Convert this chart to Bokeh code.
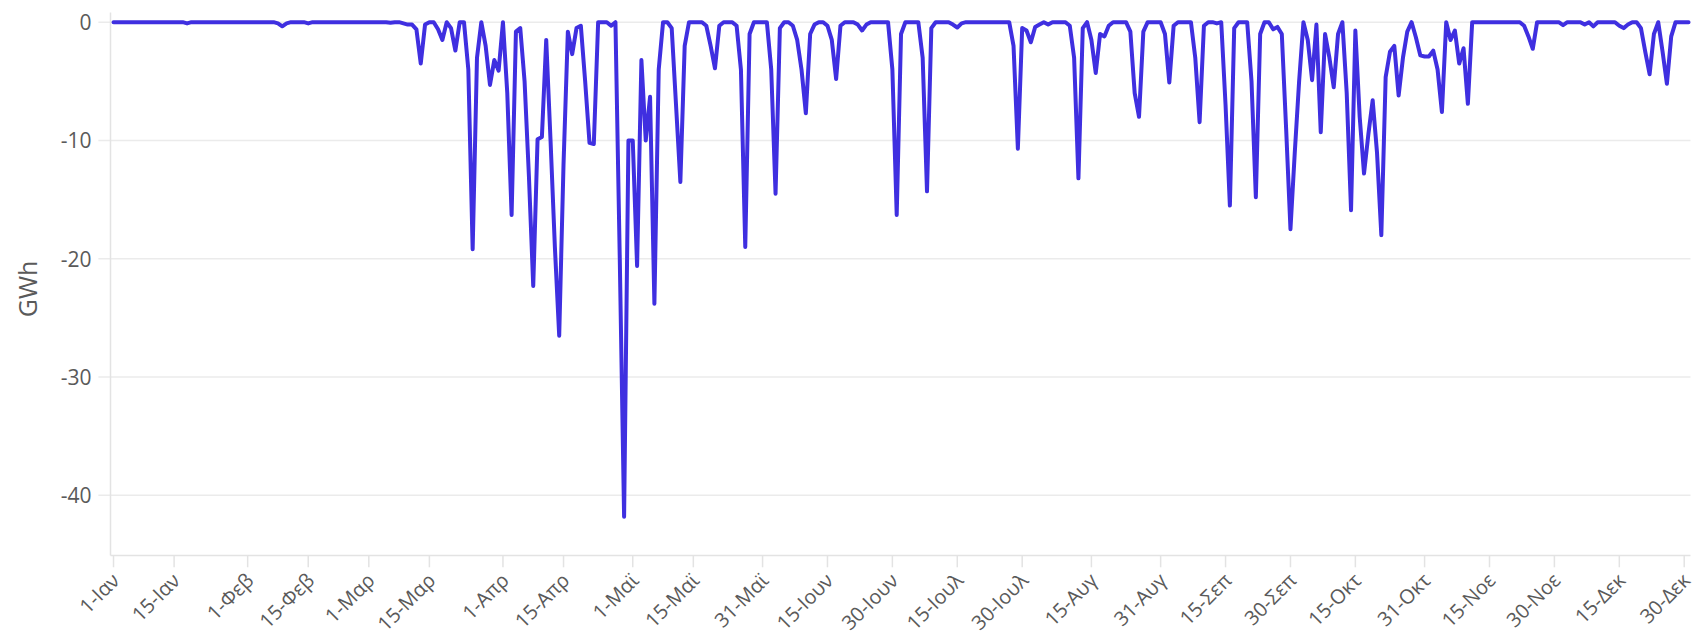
import math
from bokeh.plotting import figure
from bokeh.models import Range1d, ColumnDataSource
from bokeh.core.properties import value
from bokeh.embed import file_html
from bokeh.resources import INLINE

# Daily values (GWh), one list per month, non-leap year
jan = [0, 0, 0, 0, 0, 0, 0, 0, 0, 0, 0, 0, 0, 0, 0, 0, 0, -0.1, 0, 0,
       0, 0, 0, 0, 0, 0, 0, 0, 0, 0, 0]
feb = [0, 0, 0, 0, 0, 0, 0, -0.1, -0.35, -0.1, 0, 0, 0, 0, -0.1, 0, 0, 0, 0, 0,
       0, 0, 0, 0, 0, 0, 0, 0]
mar = [0, 0, 0, 0, 0, -0.05, 0, 0, -0.1, -0.2, -0.2, -0.6, -3.5, -0.2, 0, 0, -0.6, -1.5, 0, -0.5,
       -2.4, 0, 0, -4, -19.2, -3, 0, -2, -5.3, -3.2, -4.1]
apr = [0, -6, -16.3, -0.8, -0.5, -5, -13, -22.3, -9.9, -9.7, -1.5, -10, -19, -26.5, -12, -0.8, -2.7, -0.5, -0.3, -5,
       -10.2, -10.3, 0, 0, 0, -0.3, 0, -20, -41.8, -10]
may = [-10, -20.6, -3.2, -10, -6.3, -23.8, -4, 0, 0, -0.5, -7, -13.5, -2, 0, 0, 0, 0, -0.3, -2, -3.9,
       -0.3, 0, 0, 0, -0.3, -4, -19, -1, 0, 0, 0]
jun = [0, -4, -14.5, -0.5, 0, 0, -0.3, -1.5, -4, -7.7, -1, -0.2, 0, 0, -0.3, -1.5, -4.8, -0.3, 0, 0,
       0, -0.2, -0.7, -0.2, 0, 0, 0, 0, 0, -4]
jul = [-16.3, -1, 0, 0, 0, 0, -3, -14.3, -0.5, 0, 0, 0, 0, -0.2, -0.45, -0.1, 0, 0, 0, 0,
       0, 0, 0, 0, 0, 0, 0, -2, -10.7, -0.5, -0.7]
aug = [-1.7, -0.4, -0.2, 0, -0.2, 0, 0, 0, 0, -0.3, -3, -13.2, -0.5, 0, -1.5, -4.3, -1, -1.2, -0.3, 0,
       0, 0, 0, -0.8, -6, -8, -0.8, 0, 0, 0, 0]
sep = [-1, -5.1, -0.3, 0, 0, 0, 0, -3, -8.45, -0.3, 0, 0, -0.1, 0, -7, -15.5, -0.5, 0, 0, 0,
       -5, -14.8, -1, 0, 0, -0.6, -0.4, -1, -9, -17.5]
octo = [-11, -5, 0, -1.5, -4.9, -0.2, -9.3, -1, -3, -5.5, -1, 0, -6, -15.9, -0.7, -8, -12.8, -9.5, -6.6, -11,
        -18, -4.65, -2.5, -2, -6.2, -3, -0.8, 0, -1.3, -2.8, -2.9]
nov = [-2.9, -2.4, -4, -7.6, 0, -1.5, -0.7, -3.5, -2.2, -6.9, 0, 0, 0, 0, 0, 0, 0, 0, 0, 0,
       0, 0, -0.3, -1.2, -2.25, 0, 0, 0, 0, 0]
dec = [0, -0.25, 0, 0, 0, 0, -0.2, 0, -0.35, 0, 0, 0, 0, 0, -0.3, -0.5, -0.2, 0, 0, -0.5,
       -2.5, -4.4, -1, 0, -2.5, -5.2, -1.2, 0, 0, 0, 0]

tick_days = [0, 14, 31, 45, 59, 73, 90, 104, 120, 134, 150, 165, 180, 195, 210,
             226, 242, 257, 272, 287, 303, 318, 333, 348, 363]
tick_labels = ["1-Ιαν", "15-Ιαν", "1-Φεβ", "15-Φεβ", "1-Μαρ", "15-Μαρ", "1-Απρ", "15-Απρ",
               "1-Μαϊ", "15-Μαϊ", "31-Μαϊ", "15-Ιουν", "30-Ιουν", "15-Ιουλ", "30-Ιουλ",
               "15-Αυγ", "31-Αυγ", "15-Σεπ", "30-Σεπ", "15-Οκτ", "31-Οκτ", "15-Νοε",
               "30-Νοε", "15-Δεκ", "30-Δεκ"]
y_ticks = [-40, -30, -20, -10, 0]
y_tick_labels = ["-40", "-30", "-20", "-10", "0"]
y_title = "GWh"

# axis geometry, in value units (plot area inside a full-canvas view)
ax_x0, ax_x1 = -0.7, 364.45        # left / right edge of the plot area (days)
y_floor, y_ceil = -45.08, 0.82     # bottom / top edge of the plot area (GWh)
view_x = (-26.12, 365.84)          # whole canvas width
view_y = (-51.93, 1.834)           # whole canvas height
xtick_len = 1.0                    # GWh
ytick_len = 2.8                    # days

values = jan + feb + mar + apr + may + jun + jul + aug + sep + octo + nov + dec
days = list(range(len(values)))
src = ColumnDataSource(dict(day=days, gwh=values))
xt_src = ColumnDataSource(dict(day=tick_days,
                               y0=[y_floor] * len(tick_days),
                               y1=[y_floor - xtick_len] * len(tick_days),
                               text=tick_labels))
yt_src = ColumnDataSource(dict(y=y_ticks,
                               x0=[ax_x0 - ytick_len] * len(y_ticks),
                               xa=[ax_x0] * len(y_ticks),
                               x1=[ax_x1] * len(y_ticks),
                               text=y_tick_labels))

FONT = "Open Sans"
GRID = "#ebebeb"
AX = "#e3e3e3"
TXT = "#5a5a5a"

p = figure(width=1696, height=636,
           x_range=Range1d(*view_x), y_range=Range1d(*view_y),
           x_axis_location=None, y_axis_location=None,
           output_backend="svg", toolbar_location=None,
           min_border_left=0, min_border_right=0, min_border_top=0, min_border_bottom=0)
p.outline_line_color = None
p.grid.visible = False

# horizontal grid (extended left as the y ticks)
p.segment(x0="x0", y0="y", x1="x1", y1="y", source=yt_src, line_color=GRID, line_width=1.5)
# axis lines and date ticks
p.segment(x0=[ax_x0], y0=[y_floor], x1=[ax_x1], y1=[y_floor], line_color=AX, line_width=1.5)
p.segment(x0=[ax_x0], y0=[y_floor], x1=[ax_x0], y1=[y_ceil], line_color=AX, line_width=1.5)
p.segment(x0="day", y0="y0", x1="day", y1="y1", source=xt_src, line_color=AX, line_width=1.5)

p.line("day", "gwh", source=src, line_color="#3f2fe0", line_width=4,
       line_join="round", line_cap="round")

# date labels (slanted 45 degrees)
p.text(x="day", y="y0", text="text", source=xt_src,
       angle=math.pi / 4, text_align="right", text_baseline="middle",
       x_offset=2, y_offset=21,
       text_font=value(FONT), text_font_size=value("20px"), text_color=TXT)
# value labels
p.text(x="xa", y="y", text="text", source=yt_src,
       text_align="right", text_baseline="middle", x_offset=-19,
       text_font=value(FONT), text_font_size=value("21px"), text_color=TXT)
# axis title
p.text(x=[ax_x0], y=[(y_floor + y_ceil) / 2], text=[y_title],
       angle=math.pi / 2, text_align="center", text_baseline="middle",
       x_offset=-83, y_offset=5,
       text_font=value(FONT), text_font_size=value("25px"), text_color=TXT)

open("out.html", "w").write(file_html(p, INLINE))
